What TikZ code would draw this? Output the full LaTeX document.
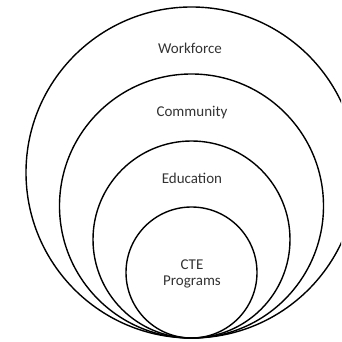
\documentclass[tikz,border=0pt]{standalone}
\usepackage{fontspec}
\setmainfont{Carlito}
\tikzset{
  ring/.style={draw, circle, line width=1.4pt, inner sep=0pt, outer sep=0pt, anchor=south},
  lbl/.style={font=\fontsize{15}{16}\selectfont, align=center, text=black!80}
}
\begin{document}
\begin{tikzpicture}[x=1pt,y=1pt]
		\useasboundingbox (0,0) rectangle (341,342);
		\clip (0,0) rectangle (341,342);
		\coordinate (B) at (191.5,4);
		
		\node[ring, minimum size=331pt] (W) at (B) {};
		\node[ring, minimum size=264pt] (C) at (B) {};
		\node[ring, minimum size=197pt] (E) at (B) {};
		\node[ring, minimum size=131pt] (P) at (B) {};
		
		\node[lbl] (WL) at (190,294) {Workforce};
		\node[lbl] (CL) at (192,229) {Community};
		\node[lbl] (EL) at (192,164) {Education};
		\node[lbl] (PL) at (192,68) {CTE\\Programs};
		\end{tikzpicture}
\end{document}
